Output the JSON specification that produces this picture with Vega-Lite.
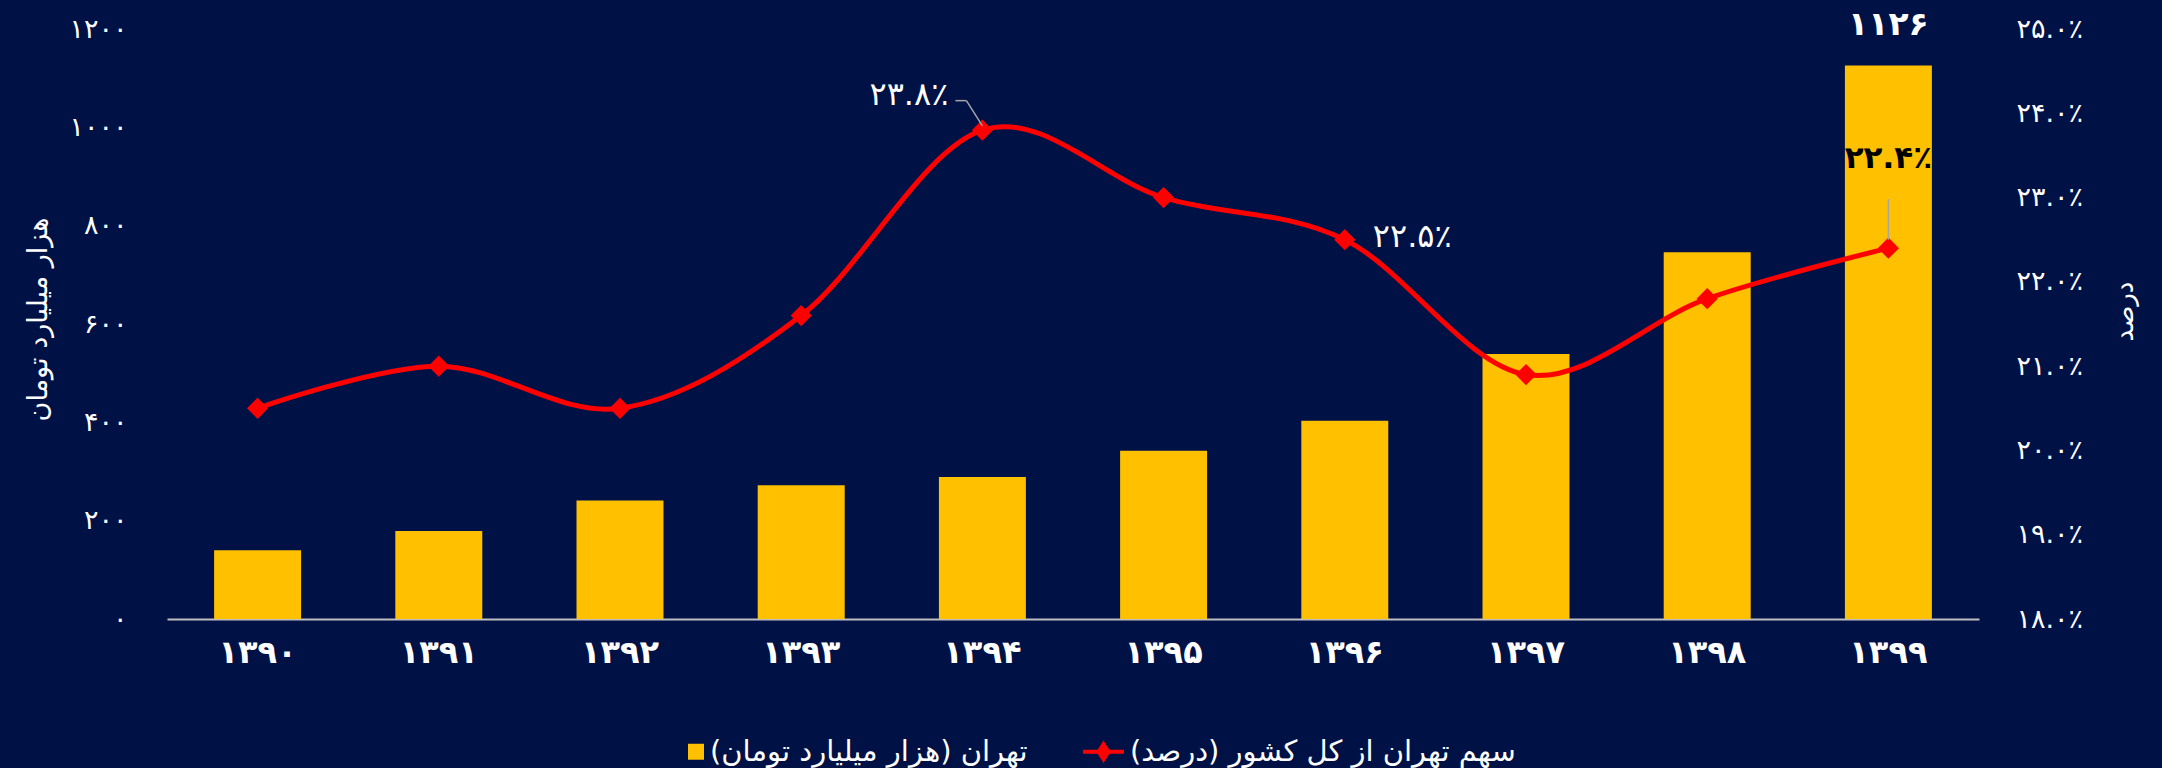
{
  "$schema": "https://vega.github.io/schema/vega-lite/v6.json",
  "width": 1812,
  "height": 590,
  "autosize": {"type": "none"},
  "padding": {"left": 167, "top": 29, "right": 183, "bottom": 149},
  "background": "#001145",
  "config": {
    "view": {"stroke": null},
    "font": "DejaVu Sans",
    "axis": {"grid": false}
  },
  "data": {
    "values": [
      {"year": "۱۳۹۰", "value": 140, "share": 20.5},
      {"year": "۱۳۹۱", "value": 179, "share": 21.0},
      {"year": "۱۳۹۲", "value": 241, "share": 20.5},
      {"year": "۱۳۹۳", "value": 272, "share": 21.6},
      {"year": "۱۳۹۴", "value": 289, "share": 23.8},
      {"year": "۱۳۹۵", "value": 342, "share": 23.0},
      {"year": "۱۳۹۶", "value": 403, "share": 22.5},
      {"year": "۱۳۹۷", "value": 539, "share": 20.9},
      {"year": "۱۳۹۸", "value": 746, "share": 21.8},
      {"year": "۱۳۹۹", "value": 1126, "share": 22.4}
    ]
  },
  "encoding": {
    "x": {
      "field": "year",
      "type": "ordinal",
      "sort": null,
      "scale": {"paddingInner": 0.52, "paddingOuter": 0.26},
      "axis": {
        "title": null,
        "ticks": false,
        "domainColor": "#bfbfbf",
        "domainWidth": 2,
        "labelColor": "#ffffff",
        "labelFontSize": 32,
        "labelFontWeight": "bold",
        "labelPadding": 18,
        "labelAngle": 0
      }
    }
  },
  "layer": [
    {
      "layer": [
        {
          "mark": {"type": "bar", "color": "#FFC000"},
          "encoding": {
            "y": {
              "field": "value",
              "type": "quantitative",
              "scale": {"domain": [0, 1200]},
              "axis": {
                "orient": "left",
                "values": [0, 200, 400, 600, 800, 1000, 1200],
                "domain": false,
                "ticks": false,
                "tickSize": 0,
                "labelPadding": 40,
                "labelColor": "#ffffff",
                "labelFontSize": 27,
                "labelExpr": "replace(replace(replace(replace(replace(replace(replace(replace(replace(replace(format(datum.value,'d'),regexp('0','g'),'۰'),regexp('1','g'),'۱'),regexp('2','g'),'۲'),regexp('3','g'),'۳'),regexp('4','g'),'۴'),regexp('5','g'),'۵'),regexp('6','g'),'۶'),regexp('7','g'),'۷'),regexp('8','g'),'۸'),regexp('9','g'),'۹')",
                "title": "هزار میلیارد تومان",
                "titleColor": "#ffffff",
                "titleFontSize": 27,
                "titleFontWeight": "normal",
                "titleAngle": -90,
                "titleX": -129,
                "titleY": 290,
                "titleAlign": "center",
                "titleBaseline": "middle"
              }
            },
            "color": {
              "datum": "‏تهران (هزار میلیارد تومان)‏",
              "type": "nominal",
              "scale": {
                "domain": ["‏تهران (هزار میلیارد تومان)‏", "‏سهم تهران از کل کشور (درصد)‏"],
                "range": ["#FFC000", "#FF0000"]
              },
              "legend": {
                "title": null,
                "orient": "none",
                "legendX": 496,
                "legendY": 702,
                "direction": "horizontal",
                "labelColor": "#ffffff",
                "labelFontSize": 29,
                "labelLimit": 0,
                "labelOffset": 6,
                "columnPadding": 55,
                "symbolSize": 1681,
                "encode": {
                  "symbols": {
                    "update": {
                      "shape": {"signal": "indexof(datum.value,'سهم')>=0 ? 'M-1,-0.1L1,-0.1L1,0.1L-1,0.1Z M0,-0.55L0.35,0L0,0.55L-0.35,0Z' : 'M0.22,-0.39L1,-0.39L1,0.39L0.22,0.39Z'"},
                      "fill": {"signal": "indexof(datum.value,'سهم')>=0 ? '#FF0000' : '#FFC000'"},
                      "stroke": {"value": "transparent"},
                      "strokeWidth": {"value": 0},
                      "opacity": {"value": 1}
                    }
                  }
                }
              }
            }
          }
        },
        {
          "transform": [{"filter": "datum.year == '۱۳۹۹'"}],
          "mark": {"type": "text", "color": "#ffffff", "fontSize": 33, "fontWeight": "bold", "baseline": "middle", "dy": -40},
          "encoding": {
            "y": {"field": "value", "type": "quantitative"},
            "text": {"value": "۱۱۲۶"}
          }
        }
      ]
    },
    {
      "layer": [
        {
          "mark": {"type": "line", "interpolate": "cardinal", "strokeWidth": 5},
          "encoding": {
            "y": {
              "field": "share",
              "type": "quantitative",
              "scale": {"domain": [18, 25]},
              "axis": {
                "orient": "right",
                "values": [18, 19, 20, 21, 22, 23, 24, 25],
                "domain": false,
                "ticks": false,
                "tickSize": 0,
                "labelPadding": 37,
                "labelAlign": "left",
                "labelColor": "#ffffff",
                "labelFontSize": 27,
                "labelExpr": "replace(replace(replace(replace(replace(replace(replace(replace(replace(replace(format(datum.value,'.1f'),regexp('0','g'),'۰'),regexp('1','g'),'۱'),regexp('2','g'),'۲'),regexp('3','g'),'۳'),regexp('4','g'),'۴'),regexp('5','g'),'۵'),regexp('6','g'),'۶'),regexp('7','g'),'۷'),regexp('8','g'),'۸'),regexp('9','g'),'۹') + '٪'",
                "title": "درصد",
                "titleColor": "#ffffff",
                "titleFontSize": 26,
                "titleFontWeight": "normal",
                "titleAngle": -90,
                "titleX": 145,
                "titleY": 282,
                "titleAlign": "center",
                "titleBaseline": "middle"
              }
            },
            "color": {
              "datum": "‏سهم تهران از کل کشور (درصد)‏",
              "type": "nominal"
            }
          }
        },
        {
          "mark": {"type": "point", "shape": "diamond", "filled": true, "size": 450, "opacity": 1},
          "encoding": {
            "y": {"field": "share", "type": "quantitative"},
            "color": {"datum": "‏سهم تهران از کل کشور (درصد)‏", "type": "nominal"}
          }
        },
        {
          "transform": [{"filter": "datum.year == '۱۳۹۴'"}],
          "mark": {"type": "rule", "color": "#a6a6a6", "strokeWidth": 1.5, "x2Offset": -16},
          "encoding": {
            "y": {"datum": 23.85},
            "y2": {"datum": 24.15},
            "x2": {"field": "year"}
          }
        },
        {
          "transform": [{"filter": "datum.year == '۱۳۹۴'"}],
          "mark": {"type": "rule", "color": "#a6a6a6", "strokeWidth": 1.5, "xOffset": -16, "x2Offset": -27},
          "encoding": {
            "y": {"datum": 24.15},
            "x2": {"field": "year"}
          }
        },
        {
          "transform": [{"filter": "datum.year == '۱۳۹۹'"}],
          "mark": {"type": "rule", "color": "#a6a6a6", "strokeWidth": 1.5},
          "encoding": {
            "y": {"datum": 22.98},
            "y2": {"datum": 22.5}
          }
        },
        {
          "transform": [{"filter": "datum.year == '۱۳۹۴'"}],
          "mark": {"type": "text", "color": "#ffffff", "fontSize": 32, "align": "right", "baseline": "middle", "dx": -34, "dy": -35},
          "encoding": {
            "y": {"field": "share", "type": "quantitative"},
            "text": {"value": "۲۳.۸٪"}
          }
        },
        {
          "transform": [{"filter": "datum.year == '۱۳۹۶'"}],
          "mark": {"type": "text", "color": "#ffffff", "fontSize": 32, "align": "left", "baseline": "middle", "dx": 28, "dy": -3},
          "encoding": {
            "y": {"field": "share", "type": "quantitative"},
            "text": {"value": "۲۲.۵٪"}
          }
        },
        {
          "transform": [{"filter": "datum.year == '۱۳۹۹'"}],
          "mark": {"type": "text", "color": "#000000", "fontSize": 31, "fontWeight": "bold", "align": "center", "baseline": "middle", "dy": -89},
          "encoding": {
            "y": {"field": "share", "type": "quantitative"},
            "text": {"value": "۲۲.۴٪"}
          }
        }
      ]
    }
  ],
  "resolve": {"scale": {"y": "independent"}}
}
